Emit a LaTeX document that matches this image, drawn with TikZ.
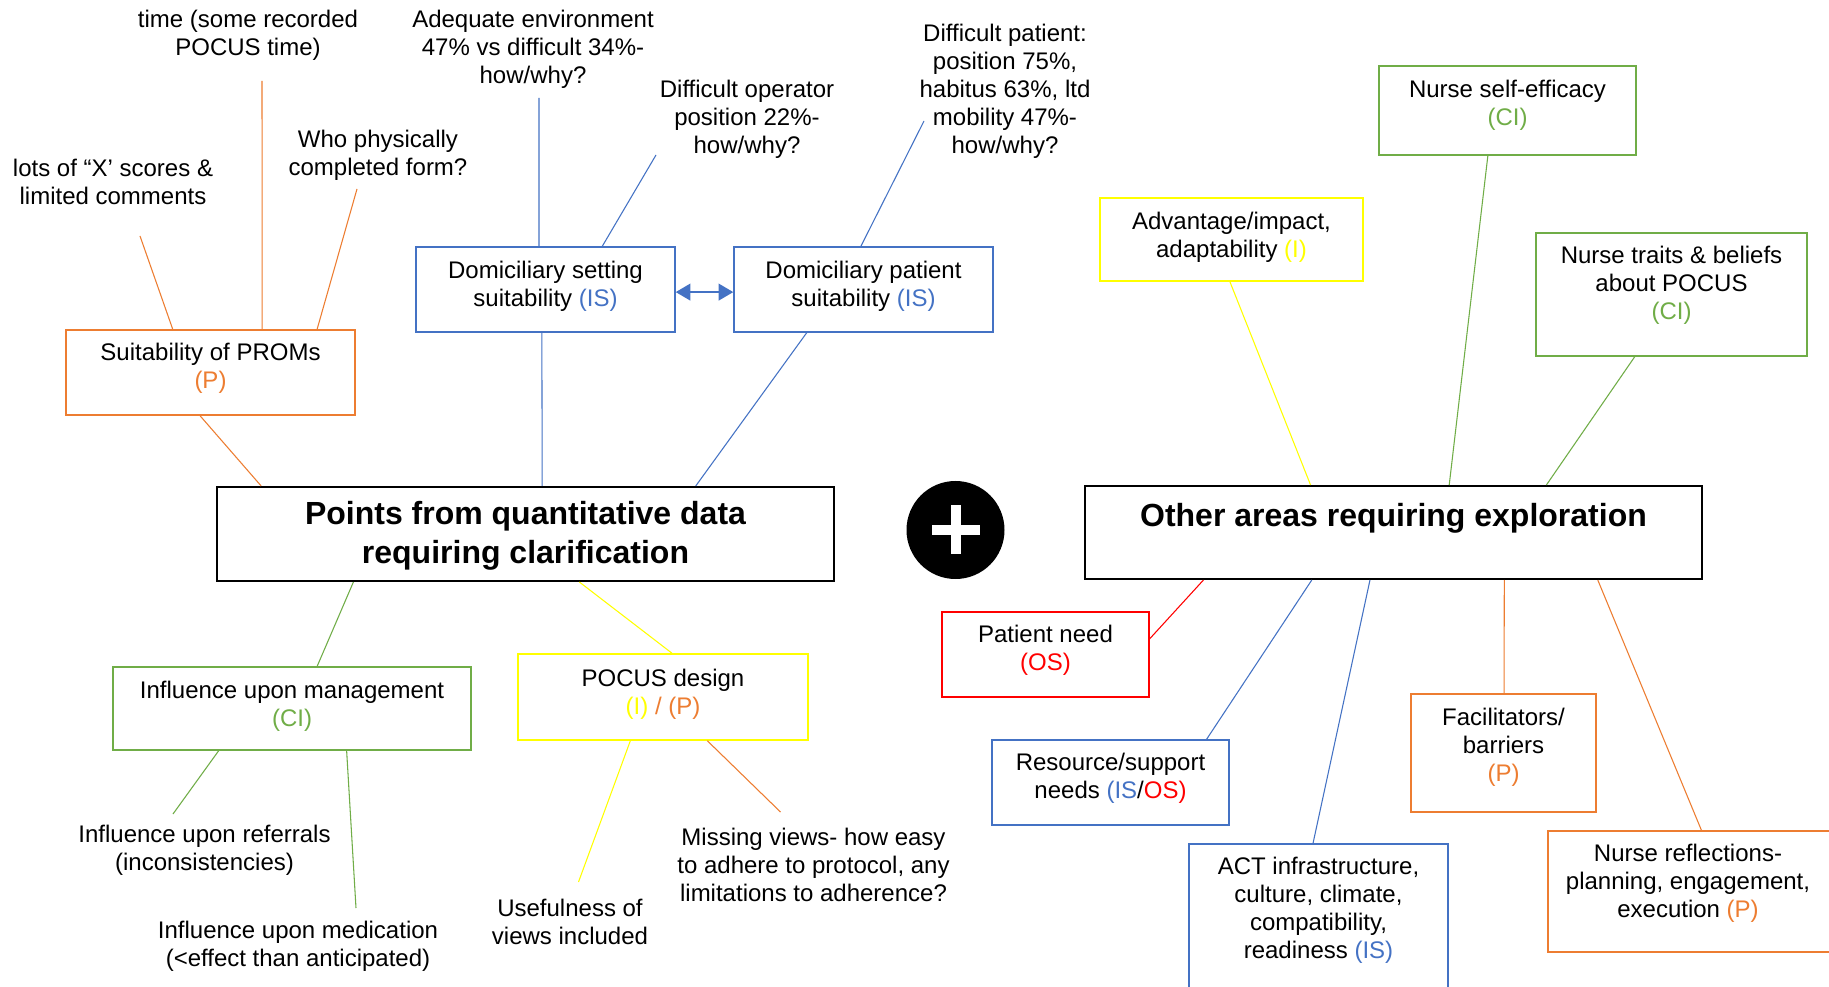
\documentclass[tikz,border=0pt]{standalone}
\usepackage{fontspec}
\setmainfont{Liberation Sans}
\usetikzlibrary{calc,fit,arrows.meta}
\definecolor{cOr}{HTML}{ED7D31}
\definecolor{cBl}{HTML}{4472C4}
\definecolor{cGr}{HTML}{70AD47}
\definecolor{cYe}{HTML}{FFFF00}
\definecolor{cRe}{HTML}{FF0000}
\begin{document}
\begin{tikzpicture}[x=0.75pt,y=-0.75pt,
  txt/.style={align=center,inner sep=0pt,yshift=-1.9pt,font=\fontsize{18pt}{21pt}\selectfont},
  ttl/.style={align=center,inner sep=0pt,yshift=-2.4pt,font=\bfseries\fontsize{24pt}{29pt}\selectfont},
  boxline/.style={draw=#1,line width=1.1pt,inner sep=0pt},
  mainline/.style={draw=black,line width=1.5pt,inner sep=0pt},
  wire/.style={draw=#1,line width=0.8pt},
]
\clip (0,0) rectangle (1829,987);
\fill[white] (0,0) rectangle (1829,987);

% ---------- frames ----------
\node[mainline, fit={(217,487)(834,581)}] (mainL) {};
\node[mainline, fit={(1085,486)(1702,579)}] (mainR) {};
\node[boxline=cOr, fit={(66,330)(355,415)}] (bProms) {};
\node[boxline=cBl, fit={(416,247)(675,332)}] (bSet) {};
\node[boxline=cBl, fit={(734,247)(993,332)}] (bPatS) {};
\node[boxline=cGr, fit={(113,667)(471,750)}] (bMgmt) {};
\node[boxline=cYe, fit={(518,654)(808,740)}] (bDesign) {};
\node[boxline=cGr, fit={(1379,66)(1636,155)}] (bEff) {};
\node[boxline=cYe, fit={(1100,198)(1363,281)}] (bAdv) {};
\node[boxline=cGr, fit={(1536,233)(1807,356)}] (bTraits) {};
\node[boxline=cRe, fit={(942,612)(1149,697)}] (bNeed) {};
\node[boxline=cBl, fit={(992,740)(1229,825)}] (bRes) {};
\node[boxline=cBl, fit={(1189,844)(1448,1010)}] (bAct) {};
\node[boxline=cOr, fit={(1411,694)(1596,812)}] (bFac) {};
\node[boxline=cOr, fit={(1548,831)(1850,952)}] (bRefl) {};

% ---------- texts in frames ----------
\node[ttl] (tMainL) at (525.5,532.5) {Points from quantitative data\\requiring clarification};
\node[ttl] (tMainR) at (1393.5,515) {Other areas requiring exploration};
\node[txt] (tProms) at (210.5,366) {Suitability of PROMs\\\textcolor{cOr}{(P)}};
\node[txt] (tSet) at (545.5,283.5) {Domiciliary setting\\suitability \textcolor{cBl}{(IS)}};
\node[txt] (tPatS) at (863.5,283.5) {Domiciliary patient\\suitability \textcolor{cBl}{(IS)}};
\node[txt] (tMgmt) at (292,703.5) {Influence upon management\\\textcolor{cGr}{(CI)}};
\node[txt] (tDesign) at (663,692) {POCUS design\\\textcolor{cYe}{(I)} \textcolor{cOr}{/ (P)}};
\node[txt] (tEff) at (1507.5,103) {Nurse self-efficacy\\\textcolor{cGr}{(CI)}};
\node[txt] (tAdv) at (1231.5,234.5) {Advantage/impact,\\adaptability \textcolor{cYe}{(I)}};
\node[txt] (tTraits) at (1671.5,283) {Nurse traits \& beliefs\\about POCUS\\\textcolor{cGr}{(CI)}};
\node[txt] (tNeed) at (1045.5,648) {Patient need\\\textcolor{cRe}{(OS)}};
\node[txt] (tRes) at (1110.5,776) {Resource/support\\needs \textcolor{cBl}{(IS}/\textcolor{cRe}{OS)}};
\node[txt] (tAct) at (1318.5,907.5) {ACT infrastructure,\\culture, climate,\\compatibility,\\readiness \textcolor{cBl}{(IS)}};
\node[txt] (tFac) at (1503.5,744.5) {Facilitators/\\barriers\\\textcolor{cOr}{(P)}};
\node[txt] (tRefl) at (1688,881) {Nurse reflections-\\planning, engagement,\\execution \textcolor{cOr}{(P)}};

% ---------- free texts ----------
\node[txt] (tTime) at (248,33) {time (some recorded\\POCUS time)};
\node[txt] (tLots) at (113,179.5) {lots of “X’ scores \&\\limited comments};
\node[txt] (tWho) at (378,153) {Who physically\\completed form?};
\node[txt] (tAdeq) at (533,46.5) {Adequate environment\\47\% vs difficult 34\%-\\how/why?};
\node[txt] (tOper) at (747,116.5) {Difficult operator\\position 22\%-\\how/why?};
\node[txt] (tPat) at (1005,88.5) {Difficult patient:\\position 75\%,\\habitus 63\%, ltd\\mobility 47\%-\\how/why?};
\node[txt] (tRef) at (204.5,848) {Influence upon referrals\\(inconsistencies)};
\node[txt] (tMed) at (298,944) {Influence upon medication\\(<effect than anticipated)};
\node[txt] (tUse) at (570,919) {Usefulness of\\views included};
\node[txt] (tMiss) at (813.5,862) {Missing views- how easy\\to adhere to protocol, any\\limitations to adherence?};

% ---------- free ends of connectors ----------
\coordinate (cTime) at (262,81);
\coordinate (cLots) at (140,236);
\coordinate (cWho) at (357,189);
\coordinate (cAdeq) at (539,98);
\coordinate (cOper) at (656,155);
\coordinate (cPat) at (924,121);
\coordinate (cRef) at (173,814);
\coordinate (cMed) at (356,908);
\coordinate (cUse) at (578.5,882);
\coordinate (cMiss) at (780.5,812);

% ---------- left cluster ----------
\draw[wire=cOr] (cTime) -- ($(bProms.north west)!0.678!(bProms.north east)$);
\draw[wire=cOr] (cLots) -- ($(bProms.north west)!0.370!(bProms.north east)$);
\draw[wire=cOr] (cWho) -- ($(bProms.north west)!0.867!(bProms.north east)$);
\draw[wire=cOr] ($(bProms.south west)!0.464!(bProms.south east)$) -- ($(mainL.north west)!0.073!(mainL.north east)$);

\draw[wire=cBl] (cAdeq) -- ($(bSet.north west)!0.475!(bSet.north east)$);
\draw[wire=cBl] (cOper) -- ($(bSet.north west)!0.718!(bSet.north east)$);
\draw[wire=cBl] ($(bSet.south west)!0.486!(bSet.south east)$) -- ($(mainL.north west)!0.527!(mainL.north east)$);
\draw[wire=cBl] (cPat) -- ($(bPatS.north west)!0.490!(bPatS.north east)$);
\draw[wire=cBl] ($(bPatS.south west)!0.282!(bPatS.south east)$) -- ($(mainL.north west)!0.775!(mainL.north east)$);
\draw[cBl, line width=1.5pt, {Triangle[length=11pt,width=12.5pt]}-{Triangle[length=11pt,width=12.5pt]}]
  ($(bSet.north east)!0.53!(bSet.south east)$) -- ($(bPatS.north west)!0.53!(bPatS.south west)$);

\draw[wire=cGr] ($(mainL.south west)!0.222!(mainL.south east)$) -- ($(bMgmt.north west)!0.570!(bMgmt.north east)$);
\draw[wire=cYe] ($(mainL.south west)!0.587!(mainL.south east)$) -- ($(bDesign.north west)!0.531!(bDesign.north east)$);
\draw[wire=cGr] ($(bMgmt.south west)!0.296!(bMgmt.south east)$) -- (cRef);
\draw[wire=cGr] ($(bMgmt.south west)!0.652!(bMgmt.south east)$) -- (cMed);
\draw[wire=cYe] ($(bDesign.south west)!0.388!(bDesign.south east)$) -- (cUse);
\draw[wire=cOr] ($(bDesign.south west)!0.652!(bDesign.south east)$) -- (cMiss);

% ---------- right cluster ----------
\draw[wire=cGr] ($(bEff.south west)!0.424!(bEff.south east)$) -- ($(mainR.north west)!0.590!(mainR.north east)$);
\draw[wire=cYe] ($(bAdv.south west)!0.494!(bAdv.south east)$) -- ($(mainR.north west)!0.366!(mainR.north east)$);
\draw[wire=cGr] ($(bTraits.south west)!0.365!(bTraits.south east)$) -- ($(mainR.north west)!0.747!(mainR.north east)$);
\draw[wire=cRe] ($(bNeed.north east)!0.318!(bNeed.south east)$) -- ($(mainR.south west)!0.193!(mainR.south east)$);
\draw[wire=cBl] ($(bRes.north west)!0.903!(bRes.north east)$) -- ($(mainR.south west)!0.368!(mainR.south east)$);
\draw[wire=cBl] ($(bAct.north west)!0.479!(bAct.north east)$) -- ($(mainR.south west)!0.462!(mainR.south east)$);
\draw[wire=cOr] ($(bFac.north west)!0.503!(bFac.north east)$) -- ($(mainR.south west)!0.679!(mainR.south east)$);
\draw[wire=cOr] ($(bRefl.north west)!0.508!(bRefl.north east)$) -- ($(mainR.south west)!0.830!(mainR.south east)$);

% ---------- plus sign ----------
\node[circle, fill=black, inner sep=0pt, minimum size=73.5pt] (plus) at (955.5,530) {};
\fill[white] ($(plus.center)+(-24,-5)$) rectangle ($(plus.center)+(24,5)$);
\fill[white] ($(plus.center)+(-5,-25)$) rectangle ($(plus.center)+(5,24)$);
\end{tikzpicture}
\end{document}
